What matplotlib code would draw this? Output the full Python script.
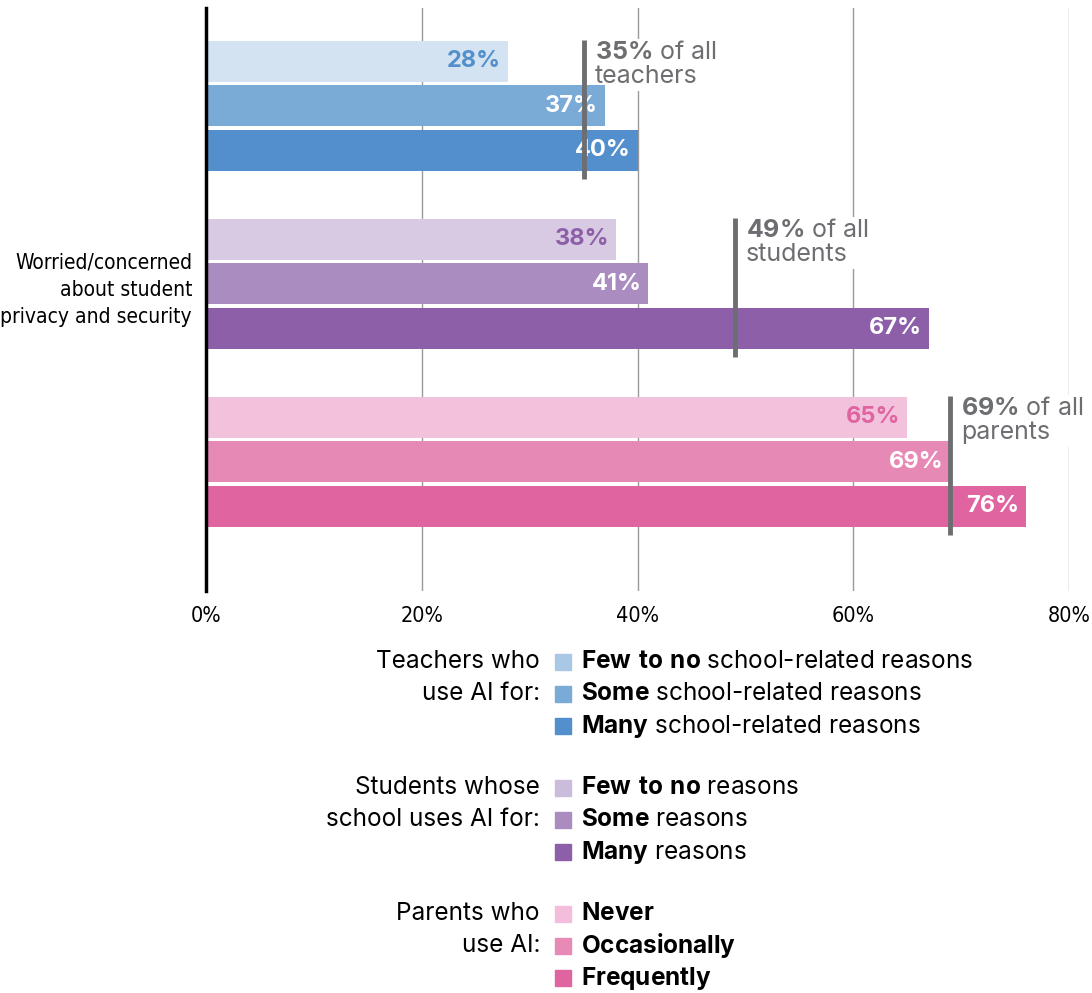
import numpy as np
import matplotlib.pyplot as plt
from matplotlib.patches import Rectangle

plt.rcParams['font.family'] = ['Inter', 'Roboto', 'DejaVu Sans']
plt.rcParams['mathtext.fontset'] = 'custom'
plt.rcParams['mathtext.rm'] = 'Inter'
plt.rcParams['mathtext.bf'] = 'Inter:bold'

# 数据
groups = ["teachers", "students", "parents"]
values = [[28, 37, 40], [38, 41, 67], [65, 69, 76]]
overall = [35, 49, 69]
bar_colors = [["#d3e3f1", "#7aabd7", "#528fcc"],
              ["#d9cae4", "#ab8cc0", "#8c5fa8"],
              ["#f2c1dc", "#e789b5", "#e064a0"]]
legend_colors = [["#a9c8e6", "#7aabd6", "#528fcc"],
                 ["#cbbcdc", "#ab8cc0", "#8c5fa8"],
                 ["#f2bedb", "#e88ab6", "#e064a0"]]
category = "Worried/concerned\nabout student\nprivacy and security"
xticks = [0, 20, 40, 60, 80]
legend_titles = [["Teachers who", "use AI for:"],
                 ["Students whose", "school uses AI for:"],
                 ["Parents who", "use AI:"]]
legend_items = [[("Few to no", "school-related reasons"), ("Some", "school-related reasons"),
                 ("Many", "school-related reasons")],
                [("Few to no", "reasons"), ("Some", "reasons"), ("Many", "reasons")],
                [("Never", ""), ("Occasionally", ""), ("Frequently", "")]]

gray = "#6d6e71"

fig = plt.figure(figsize=(10.92, 9.93), dpi=100)
ax = fig.add_axes([206 / 1092, 1 - 591 / 993, (1069 - 206) / 1092, (591 - 8) / 993])

for g in range(3):
    for i in range(3):
        y = g * 4 + i
        v = values[g][i]
        ax.barh(y, v, height=0.92, color=bar_colors[g][i], zorder=2)
        txt_col = bar_colors[g][2] if i == 0 else "white"
        ax.annotate(f"{v}%", xy=(v, y), xytext=(-5, 0), textcoords="offset points",
                    ha="right", va="center", fontsize=17, fontweight="bold",
                    color=txt_col, zorder=4)
    ax.vlines(overall[g], g * 4 - 0.48, g * 4 + 2.65, color=gray, lw=3.5, zorder=5)
    label = "$\\bf{%d\\%%}$ of all\n%s" % (overall[g], groups[g])
    ax.annotate(label, xy=(overall[g], g * 4 - 0.48), xytext=(8, -1), textcoords="offset points",
                ha="left", va="top", fontsize=18, color=gray, linespacing=1.05,
                bbox=dict(fc="white", ec="none", pad=2), zorder=1.8)

ax.set_xlim(0, 80)
ax.set_ylim(11.9, -1.2)
ax.set_xticks(xticks)
ax.set_xticklabels([f"{t}%" for t in xticks], fontsize=15.5, family="DejaVu Sans",
                   fontstretch="condensed")
ax.set_yticks([5])
ax.set_yticklabels([category], fontsize=15, family="DejaVu Sans", fontstretch="condensed",
                   linespacing=1.45)
ax.tick_params(axis="both", length=0)
ax.tick_params(axis="x", pad=11)
ax.tick_params(axis="y", pad=10)
ax.grid(axis="x", color="#999999", lw=1, zorder=1)
ax.set_axisbelow(True)
for s in ["top", "right", "bottom"]:
    ax.spines[s].set_visible(False)
ax.spines["left"].set_linewidth(2.5)
ax.spines["left"].set_zorder(6)

# 图例 (像素坐标)
lax = fig.add_axes([0, 0, 1, 1])
lax.set_xlim(0, 1092)
lax.set_ylim(993, 0)
lax.axis("off")
for g in range(3):
    for i in range(3):
        y = 662 + g * 126 + i * 32
        lax.add_patch(Rectangle((555, y - 8), 16, 16, color=legend_colors[g][i]))
        bold, rest = legend_items[g][i]
        b = bold.replace(" ", "\\ ")
        s = "$\\bf{%s}$" % b
        if rest:
            s += " " + rest
        lax.text(581, y, s, ha="left", va="center", fontsize=17.5, color="black")
        if i < 2:
            lax.text(540, y, legend_titles[g][i], ha="right", va="center", fontsize=17.5,
                     color="black")

fig.savefig("out.png", dpi=100)
